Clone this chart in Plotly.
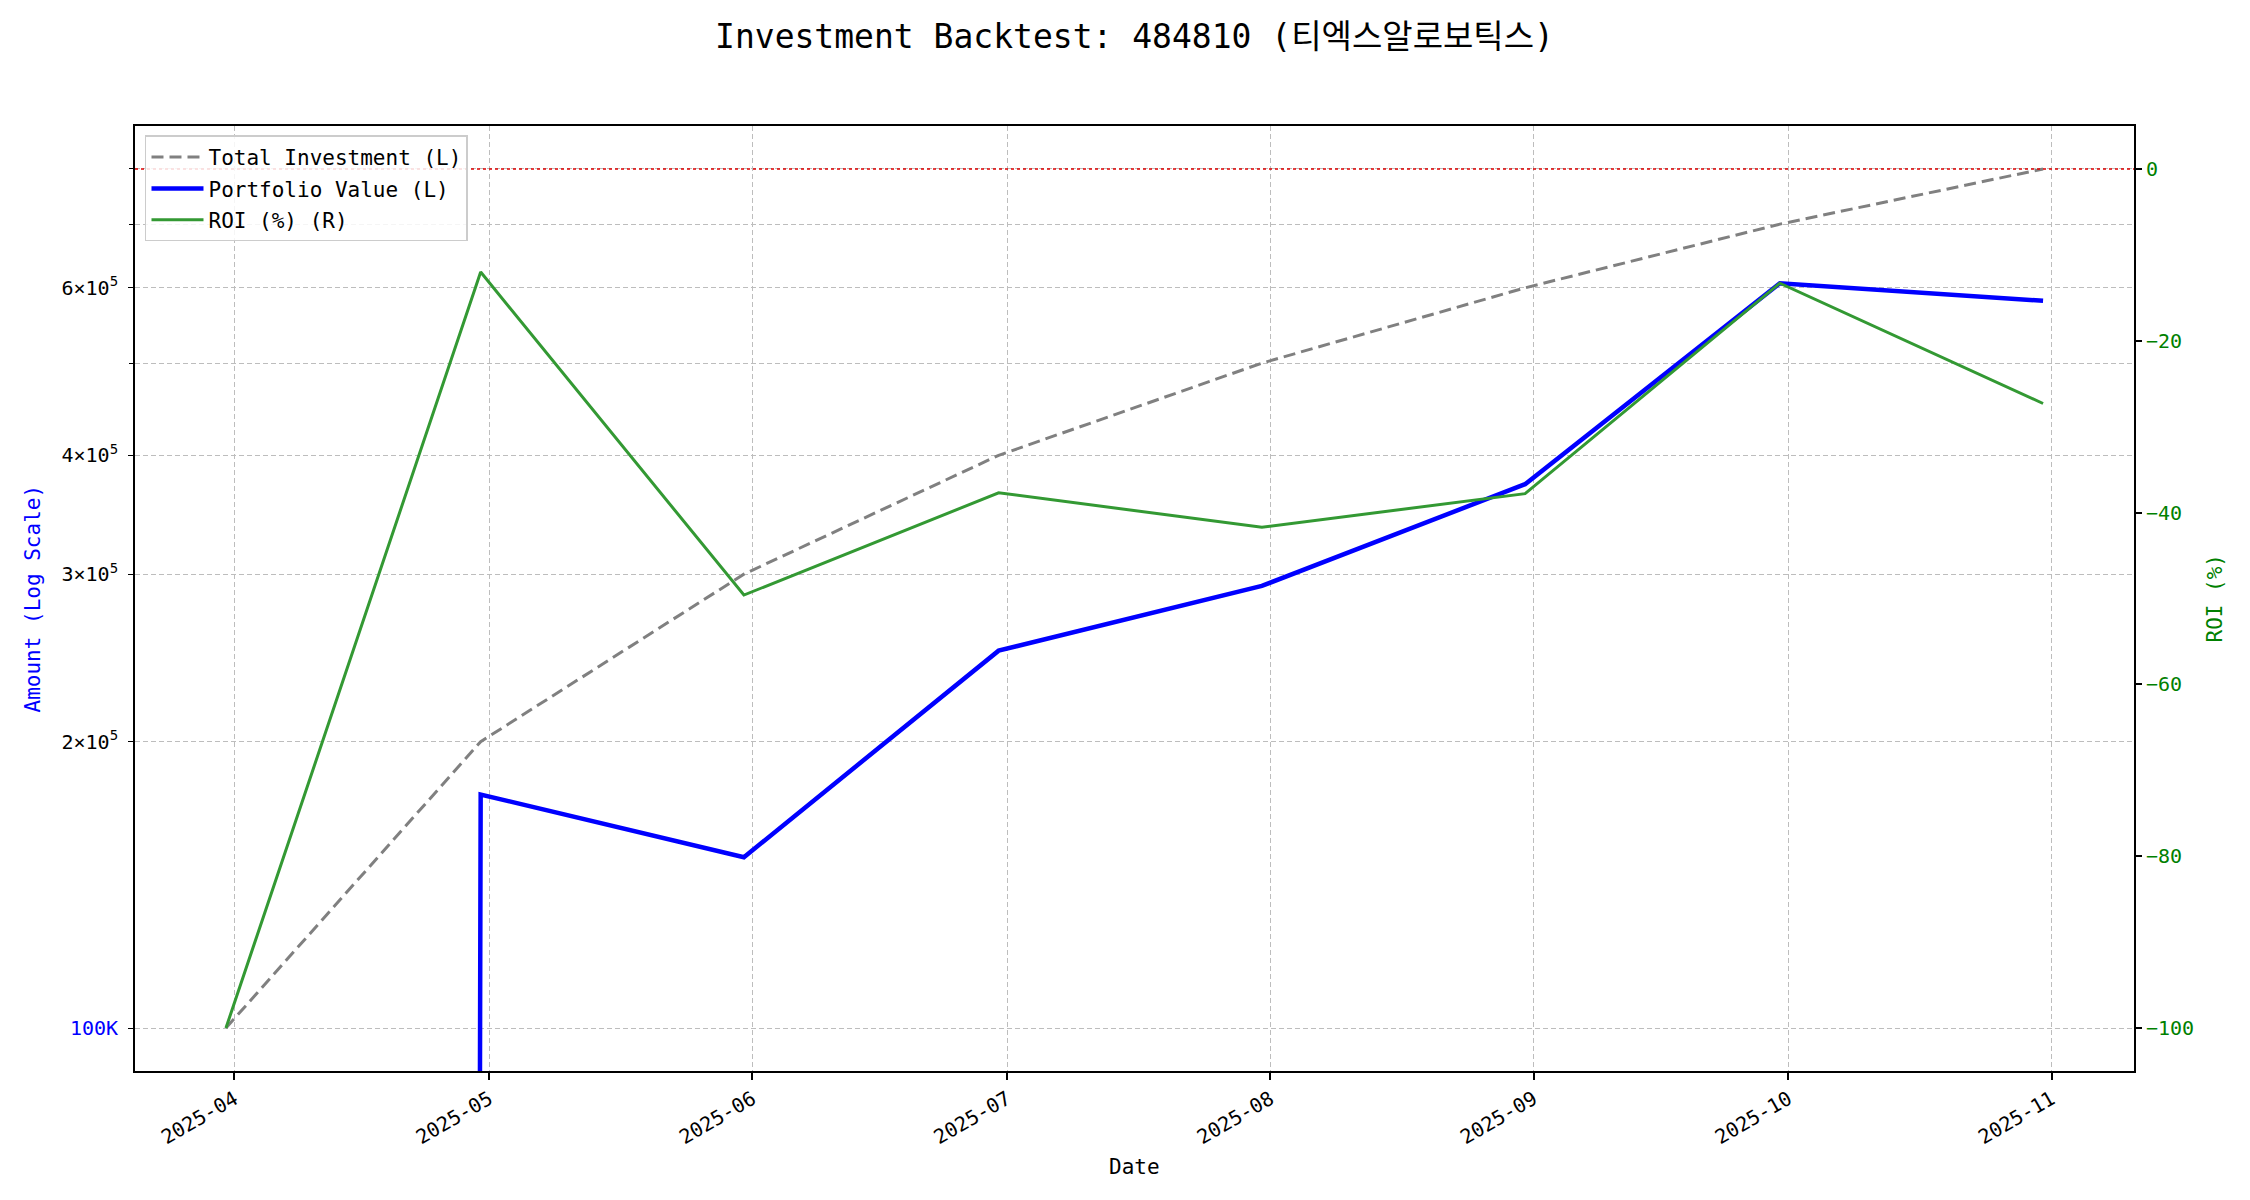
import math
import plotly.graph_objects as go

# ---------------- data ----------------
dates = ["2025-03-31", "2025-04-30", "2025-05-31", "2025-06-30",
         "2025-07-31", "2025-08-31", "2025-09-30", "2025-10-31"]
total_investment = [100000, 200000, 300000, 400000, 500000, 600000, 700000, 800000]
portfolio_value = [0, 176000, 151200, 249300, 291600, 373000, 606600, 581500]
roi_pct = [-100.0, -12.0, -49.6, -37.7, -41.7, -37.8, -13.3, -27.3]

x_tick_vals = ["2025-04-01", "2025-05-01", "2025-06-01", "2025-07-01",
               "2025-08-01", "2025-09-01", "2025-10-01", "2025-11-01"]
x_tick_text = ["2025-04", "2025-05", "2025-06", "2025-07",
               "2025-08", "2025-09", "2025-10", "2025-11"]
y_tick_vals = [100000, 200000, 300000, 400000, 600000]
y_tick_text = ['<span style="color:#0000ff">100K</span>',
               "2×10<sup>5</sup>", "3×10<sup>5</sup>",
               "4×10<sup>5</sup>", "6×10<sup>5</sup>"]
y_minor_vals = [500000, 700000, 800000]
roi_tick_vals = [0, -20, -40, -60, -80, -100]

title_text = "Investment Backtest: 484810 (티엑스알로보틱스)"

# ---------------- style ----------------
FONT = "DejaVu Sans Mono, Noto Sans CJK KR, monospace"
OFF = 8                       # page body margin of the html page
W, H = 2250 - 2 * OFF, 1200 - 2 * OFF
# plot area in page pixels: left 135, right 2134, top 126, bottom 1071
ML, MT = 135 - OFF, 126 - OFF
MR = W - (2134 - OFF)
MB = H - (1071 - OFF)
GRID = "#bdbdbd"
GDASH = "5px,3px"

# matplotlib clips non-positive values on log axes to a tiny number
portfolio_for_log = [v if v > 0 else 1e-100 for v in portfolio_value]

# 5% margins like matplotlib
lo, hi = math.log10(min(total_investment)), math.log10(max(total_investment))
pad = (hi - lo) * 0.05
y_range = [lo - pad, hi + pad]
r_lo, r_hi = min(roi_pct), 0
r_pad = (r_hi - r_lo) * 0.05
y2_range = [r_lo - r_pad, r_hi + r_pad]

fig = go.Figure()
fig.add_trace(go.Scatter(
    x=dates, y=total_investment, mode="lines", name="Total Investment (L)",
    line=dict(color="#808080", width=3, dash="12px,6px"),
    legendgroup="a", yaxis="y"))
fig.add_trace(go.Scatter(
    x=dates, y=portfolio_for_log, mode="lines", name="Portfolio Value (L)",
    line=dict(color="#0000ff", width=4.5),
    legendgroup="b", yaxis="y"))
fig.add_trace(go.Scatter(
    x=dates, y=roi_pct, mode="lines", name="ROI (%) (R)",
    line=dict(color="#339933", width=3),
    legendgroup="c", yaxis="y2"))

fig.add_shape(type="line", xref="paper", x0=0, x1=1, yref="y2", y0=0, y1=0,
              line=dict(color="#dd0000", width=1.5, dash="dot"), layer="above")

fig.update_layout(
    width=W, height=H,
    margin=dict(l=ML, r=MR, t=MT, b=MB, autoexpand=False),
    paper_bgcolor="white", plot_bgcolor="white",
    font=dict(family=FONT, size=20, color="black"),
    title=dict(text=title_text, x=0.5, xanchor="center", xref="paper",
               y=1 - (36 - OFF) / H, yanchor="middle",
               font=dict(family=FONT, size=33, color="black")),
    showlegend=True,
    legend=dict(x=0.005, y=0.99, xanchor="left", yanchor="top",
                bgcolor="rgba(255,255,255,0.85)", bordercolor="#cccccc",
                borderwidth=1.5, font=dict(family=FONT, size=21),
                itemwidth=52,
                traceorder="grouped", tracegroupgap=1),
    xaxis=dict(
        type="date", range=["2025-03-20 07:00", "2025-11-10 17:00"],
        tickmode="array", tickvals=x_tick_vals, ticktext=x_tick_text,
        tickangle=-30, ticks="outside", ticklen=7, tickwidth=1.6, tickcolor="black",
        showline=True, linecolor="black", linewidth=1.8, mirror=True,
        showgrid=True, gridcolor=GRID, gridwidth=0.9, griddash=GDASH,
        zeroline=False, tickfont=dict(size=20, family=FONT)),
    yaxis=dict(
        type="log", range=y_range,
        tickmode="array", tickvals=y_tick_vals, ticktext=y_tick_text,
        ticks="outside", ticklen=5, tickwidth=1.4, tickcolor="black",
        ticklabelstandoff=6,
        showline=True, linecolor="black", linewidth=1.8, mirror=True,
        showgrid=True, gridcolor=GRID, gridwidth=0.9, griddash=GDASH,
        minor=dict(tickmode="array", tickvals=y_minor_vals, ticks="outside",
                   ticklen=4, tickcolor="black", showgrid=True, gridcolor=GRID,
                   gridwidth=0.9, griddash=GDASH),
        zeroline=False, tickfont=dict(size=20, family=FONT)),
    yaxis2=dict(
        overlaying="y", side="right", range=y2_range,
        tickmode="array", tickvals=roi_tick_vals,
        ticks="outside", ticklen=7, tickwidth=1.6, tickcolor="black",
        showline=False, showgrid=False, zeroline=False,
        tickfont=dict(size=20, family=FONT, color="#008000")),
)

# axis titles placed like matplotlib (page coords minus body offset)
pw = W - ML - MR
ph = H - MT - MB
fig.add_annotation(text="Amount (Log Scale)", xref="paper", yref="paper",
                   x=(32 - OFF - ML) / pw, y=0.5, xanchor="center", yanchor="middle",
                   textangle=-90, showarrow=False,
                   font=dict(family=FONT, size=21, color="#0000ff"))
fig.add_annotation(text="ROI (%)", xref="paper", yref="paper",
                   x=(2214 - OFF - ML) / pw, y=0.5, xanchor="center", yanchor="middle",
                   textangle=-90, showarrow=False,
                   font=dict(family=FONT, size=21, color="#008000"))
fig.add_annotation(text="Date", xref="paper", yref="paper",
                   x=0.5, y=-(1167 - 1071) / ph, xanchor="center", yanchor="middle",
                   showarrow=False, font=dict(family=FONT, size=21, color="black"))

fig.write_html("out.html")
